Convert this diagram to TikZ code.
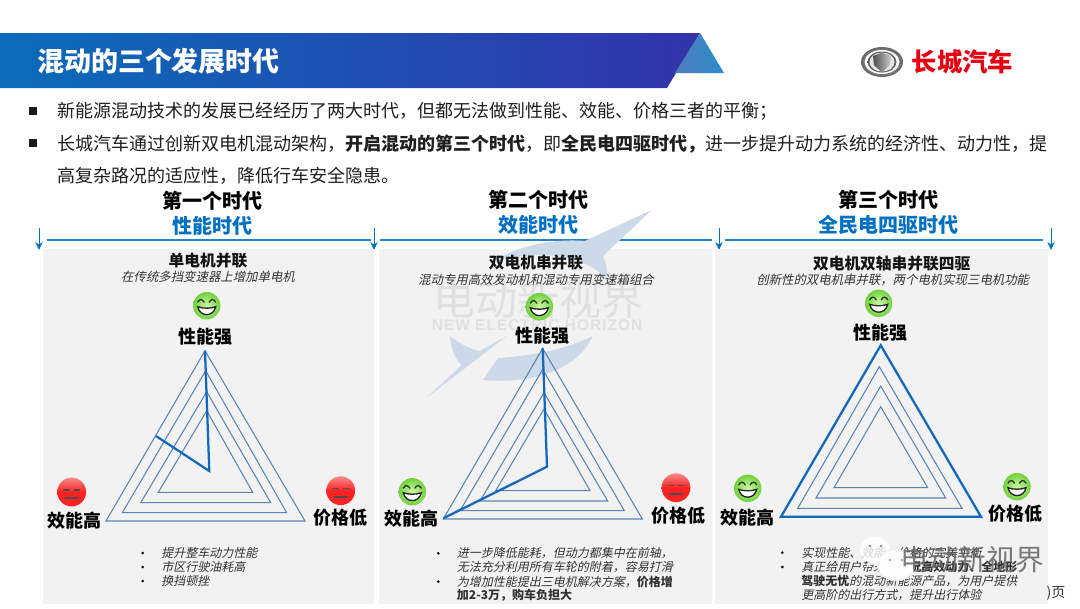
\documentclass[tikz,border=0pt]{standalone}
\usepackage{fontspec}
\usetikzlibrary{arrows.meta}
\setmainfont[AutoFakeSlant=0.22]{Noto Sans CJK SC}
\newfontfamily\latinwm[LetterSpace=6.5]{Liberation Sans}
\definecolor{gwmblue}{HTML}{0070C0}
\definecolor{panelgray}{HTML}{F2F2F2}
\definecolor{triblue}{HTML}{5A86B5}
\definecolor{thickblue}{HTML}{1268BE}
\definecolor{swoosh}{HTML}{CBD9E8}
\definecolor{wmgray}{HTML}{DFE0E1}
\definecolor{logored}{HTML}{E60012}
\definecolor{facegreen}{HTML}{6FD13A}
\definecolor{facegreenin}{HTML}{D2F7A8}
\definecolor{barleft}{HTML}{0A6CBA}
\definecolor{barright}{HTML}{3234A8}
\definecolor{wedgeleft}{HTML}{4E7CBE}
\definecolor{wedgeright}{HTML}{2C8CCC}
\definecolor{facered}{HTML}{FF2222}
\definecolor{faceredtop}{HTML}{F58A8A}
\tikzset{
  txt/.style={inner sep=0pt,outer sep=0pt,font=\fontsize{13.5pt}{16pt}\selectfont,text=black!88,anchor=west},
  erahead/.style={inner sep=0pt,font=\bfseries\fontsize{15pt}{18pt}\selectfont,text=black},
  erablue/.style={inner sep=0pt,font=\bfseries\fontsize{15pt}{18pt}\selectfont,text=gwmblue},
  archname/.style={inner sep=0pt,font=\bfseries\fontsize{11.8pt}{14pt}\selectfont,text=black!92},
  archsub/.style={inner sep=0pt,font=\itshape\fontsize{9.3pt}{11pt}\selectfont,text=black!80},
  axisname/.style={inner sep=0pt,font=\bfseries\fontsize{13.5pt}{16pt}\selectfont,text=black},
  bul/.style={inner sep=0pt,anchor=west,font=\itshape\fontsize{9pt}{11pt}\selectfont,text=black!80},
  buldot/.style={circle,fill=black,inner sep=0pt,minimum size=2.2pt},
  squarebul/.style={rectangle,fill=black!90,inner sep=0pt,minimum size=6.4pt},
  tri/.style={draw=triblue,line width=0.8pt,line join=miter},
  polyline/.style={draw=thickblue,line width=1.7pt,line join=miter},
  panel/.style={fill=panelgray,draw=none},
  rule/.style={draw=gwmblue!85,line width=1.5pt},
  downarrow/.style={draw=gwmblue,line width=0.75pt,-{Stealth[length=6pt,width=5.5pt]}},
  happyface/.pic={
    \shade[inner color=facegreenin,outer color=facegreen] (0,0) circle [radius=13.7];
    \draw[black!80,line width=1pt,line cap=round] (-9,-3.5) .. controls (-7,-7) and (-4.5,-7) .. (-2.5,-3.5);
    \draw[black!80,line width=1pt,line cap=round] (2.5,-3.5) .. controls (4.5,-7) and (7,-7) .. (9,-3.5);
    \draw[black!85,fill=white,line width=1pt] (-9,1) .. controls (-4,3) and (4,3) .. (9,1) .. controls (7,11.5) and (-7,11.5) .. (-9,1) -- cycle;
  },
  sadface/.pic={
    \shade[top color=faceredtop,bottom color=facered,middle color=facered] (0,0) circle [radius=14.4];
    \draw[black!70,line width=1.1pt,line cap=round] (-8,-2) -- (-2.5,-2);
    \draw[black!70,line width=1.1pt,line cap=round] (2.5,-2) -- (8,-2);
    \draw[black!70,line width=1.3pt,line cap=round] (-6.5,6) -- (6.5,6);
  }
}
\begin{document}
\begin{tikzpicture}[x=0.75pt,y=-0.75pt]
\useasboundingbox (0,0) rectangle (1080,608);
\fill[white] (0,0) rectangle (1080,608);

% header
\shade[left color=barleft,right color=barright]
  (0,33) -- (700,33) -- (667,88) -- (0,88) -- cycle;
\shade[left color=wedgeleft,right color=wedgeright]
  (700,33) -- (724,73) -- (675,73) -- cycle;
\node[inner sep=0pt,anchor=west,text=white,font=\bfseries\fontsize{20.2pt}{24pt}\selectfont] (title) at (37,61) {混动的三个发展时代};

% logo
\shade[inner color=black!25,outer color=black!60] (882,62) circle [x radius=21,y radius=15];
\fill[white] (882,62) circle [x radius=17.5,y radius=12];
\shade[inner color=black!30,outer color=black!65] (882,62) circle [x radius=14.5,y radius=10.5];
\fill[white!90!black] (882,62) circle [x radius=12.5,y radius=9.5];
\shade[left color=black!70,right color=black!20] (873,56) -- (882,52.5) -- (891,56) -- (890,65) -- (882,72.5) -- (874,65) -- cycle;
\node[inner sep=0pt,text=logored,font=\bfseries\fontsize{19pt}{22pt}\selectfont] (brand) at (962.5,62) {长城汽车};

% intro
\node[squarebul] (b1) at (33,111) {};
\node[txt] (l1) at (57,111) {新能源混动技术的发展已经经历了两大时代，但都无法做到性能、效能、价格三者的平衡；};
\node[squarebul] (b2) at (33,143) {};
\node[txt] (l2) at (57,144) {长城汽车通过创新双电机混动架构，\textbf{开启混动的第三个时代}，即\textbf{全民电四驱时代，}进一步提升动力系统的经济性、动力性，提};
\node[txt] (l3) at (57,176) {高复杂路况的适应性，降低行车安全隐患。};

% era heads
\node[erahead] (e1) at (212,201) {第一个时代};
\node[erablue] (e1b) at (212,226) {性能时代};
\node[erahead] (e2) at (538,200) {第二个时代};
\node[erablue] (e2b) at (538,225) {效能时代};
\node[erahead] (e3) at (888,200) {第三个时代};
\node[erablue] (e3b) at (888,225) {全民电四驱时代};

% rules and arrows
\path[rule] (47,239.5) -- (371,239.5);
\path[rule] (380,239.5) -- (712,239.5);
\path[rule] (725,239.5) -- (1043,239.5);
\foreach \ax in {39,374,719,1051}{
  \path[downarrow] (\ax,228) -- (\ax,250);
}

% panels
\fill[panel] (42.5,249) rectangle (374,604);
\fill[panel] (379,249) rectangle (712,604);
\fill[panel] (715,249) rectangle (1048,604);

% watermark swoosh
\fill[swoosh] (495,262) .. controls (510,248) and (550,238) .. (585,241) -- (651.7,210) -- (603,256) .. controls (607,265) and (608,275) .. (607,282) .. controls (598,262) and (550,245) .. (495,262) -- cycle;
\fill[swoosh] (450,336) .. controls (451,350) and (455,358) .. (461.7,365) -- (426.7,397.7) -- (506.7,336) -- (480,351) .. controls (468,349) and (458,342) .. (450,336) -- cycle;
\fill[swoosh] (592.7,336) .. controls (580,365) and (540,385) .. (483,380) -- (498,358) .. controls (530,356) and (565,350) .. (592.7,336) -- cycle;
\node[inner sep=0pt,text=wmgray,font=\fontsize{31.5pt}{34pt}\selectfont] (wm1) at (538,300) {电动新视界};
\node[inner sep=0pt,text=wmgray,font=\latinwm\bfseries\fontsize{11.6pt}{13pt}\selectfont] (wm2) at (537,325) {NEW ELECTRIC HORIZON};

% ===== panel 1
\node[archname] (a1) at (208,261) {单电机并联};
\node[archsub] (s1) at (208,277) {在传统多挡变速器上增加单电机};
\pic at (206.7,305.7) {happyface};
\node[axisname] (p1) at (205,337) {性能强};
\path[tri] (205,350.7) -- (305,521) -- (106,521) -- cycle;
\path[tri] (205.7,370.7) -- (286.7,512.7) -- (122.3,512.7) -- cycle;
\path[tri] (206.7,391.7) -- (270.7,502.7) -- (140.7,502.7) -- cycle;
\path[tri] (206.7,410.7) -- (252.7,492.3) -- (158.3,492.3) -- cycle;
\path[polyline] (205,350.7) -- (209.3,471) -- (156,436);
\pic at (71.7,492) {sadface};
\node[axisname] (q1) at (74.3,521) {效能高};
\pic at (340.7,490.7) {sadface};
\node[axisname] (r1) at (340.7,518) {价格低};
\node[buldot] (d11) at (142.7,553) {};
\node[bul] (t11) at (161,552.7) {提升整车动力性能};
\node[buldot] (d12) at (142.7,567) {};
\node[bul] (t12) at (161,567) {市区行驶油耗高};
\node[buldot] (d13) at (142.7,581) {};
\node[bul] (t13) at (161,581) {换挡顿挫};

% ===== panel 2
\node[archname] (a2) at (536,262.7) {双电机串并联};
\node[archsub] (s2) at (536,279.3) {混动专用高效发动机和混动专用变速箱组合};
\pic at (539.3,306.7) {happyface};
\node[axisname] (p2) at (542.3,335.7) {性能强};
\path[tri] (542.7,348.3) -- (642.3,519) -- (443.3,519) -- cycle;
\path[tri] (542.7,369.3) -- (624.3,510.7) -- (460,510.7) -- cycle;
\path[tri] (544,392.7) -- (607.7,501) -- (480,501) -- cycle;
\path[tri] (544,409) -- (590,490.7) -- (495.7,490.7) -- cycle;
\path[polyline] (542.7,348.3) -- (547,466.7) -- (443.3,518.3);
\pic at (412.3,491.7) {happyface};
\node[axisname] (q2) at (411.7,519) {效能高};
\pic at (676,487.7) {sadface};
\node[axisname] (r2) at (678.3,516) {价格低};
\node[buldot] (d21) at (438.3,553.3) {};
\node[bul] (t21) at (456.7,553.3) {进一步降低能耗，但动力都集中在前轴，};
\node[bul] (t22) at (456.7,567.3) {无法充分利用所有车轮的附着，容易打滑};
\node[buldot] (d22) at (438.3,581.7) {};
\node[bul] (t23) at (456.7,581.7) {为增加性能提出三电机解决方案，\textbf{价格增}};
\node[bul] (t24) at (456.7,595.7) {\textbf{加2-3万，购车负担大}};

% ===== panel 3
\node[archname] (a3) at (891.7,263.3) {双电机双轴串并联四驱};
\node[archsub] (s3) at (892.7,280) {创新性的双电机串并联，两个电机实现三电机功能};
\pic at (878.7,303.3) {happyface};
\node[axisname] (p3) at (880,332.3) {性能强};
\path[tri] (879.3,366.7) -- (962,508.3) -- (797.7,508.3) -- cycle;
\path[tri] (880.7,386) -- (945.7,498) -- (816,498) -- cycle;
\path[tri] (880.7,406.7) -- (927.7,487.7) -- (834,487.7) -- cycle;
\path[polyline] (880.7,345.3) -- (981,516.7) -- (781,516.7) -- cycle;
\pic at (747.7,488.3) {happyface};
\node[axisname] (q3) at (747.3,517.3) {效能高};
\pic at (1017,486.7) {happyface};
\node[axisname] (r3) at (1015,514) {价格低};
\node[buldot] (d31) at (782.3,552.7) {};
\node[bul] (t31) at (801,552.7) {实现性能、效能、价格的完美平衡};
\node[buldot] (d32) at (782.3,567) {};
\node[bul] (t32) at (801,567) {真正给用户带来\textbf{全工况高效动力、全地形}};
\node[bul] (t33) at (801,581.3) {\textbf{驾驶无忧}的混动新能源产品，为用户提供};
\node[bul] (t34) at (801,595.3) {更高阶的出行方式，提升出行体验};

% page number fragment
\node[inner sep=0pt,text=black!80,font=\fontsize{10.5pt}{12pt}\selectfont] (pg) at (1056,593) {)页};

% wechat overlay
\fill[white,opacity=.8] (875,550) circle [x radius=15,y radius=13.5];
\fill[white,opacity=.8] (869,560) -- (866,568) -- (876,562) -- cycle;
\fill[black!45] (870,546) circle [radius=1.4];
\fill[black!45] (881,546) circle [radius=1.4];
\fill[panelgray] (896,565) circle [x radius=19,y radius=16];
\fill[white,opacity=.85] (896,565) circle [x radius=17.5,y radius=14.5];
\fill[black!35] (890,560) circle [radius=1.3];
\fill[black!35] (902,560) circle [radius=1.3];
\node[inner sep=0pt,text=black!60,opacity=.85,font=\fontsize{21.5pt}{24pt}\selectfont] (wx) at (972,560) {电动新视界};
\end{tikzpicture}
\end{document}
